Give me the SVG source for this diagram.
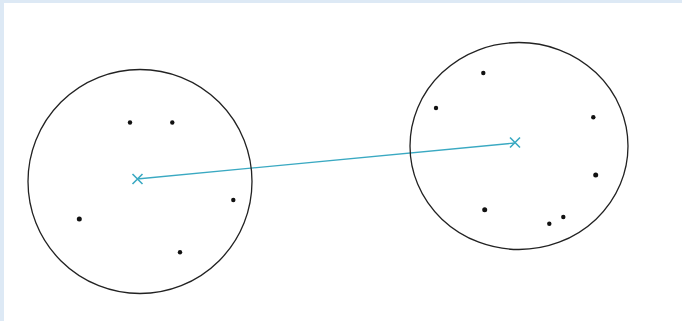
<svg xmlns="http://www.w3.org/2000/svg" width="682" height="321" viewBox="0 0 682 321">
<style>
.ring{fill:none;stroke:#222;stroke-width:1.3}
.dot{fill:#111}
.mk{stroke:#3aa9c2;stroke-width:1.6;fill:none}
.link{stroke:#3aa9c2;stroke-width:1.3;fill:none}
</style>
<rect x="0" y="0" width="682" height="321" fill="#dde9f5"/>
<rect x="4" y="3" width="678" height="318" fill="#ffffff"/>
<g id="connectors">
<line class="link" x1="137" y1="179" x2="515" y2="143"/>
</g>
<g id="clusterA">
<circle class="ring" cx="140" cy="181.5" r="112"/>
<circle class="dot" cx="130" cy="122.5" r="2.2"/>
<circle class="dot" cx="172.3" cy="122.5" r="2.2"/>
<circle class="dot" cx="233.3" cy="200" r="2.2"/>
<circle class="dot" cx="79.3" cy="219" r="2.5"/>
<circle class="dot" cx="180" cy="252.3" r="2.2"/>
<path class="mk" d="M132.5 174 L142.5 184 M142.5 174 L132.5 184"/>
</g>
<g id="clusterB">
<ellipse class="ring" cx="519" cy="146" rx="109" ry="103.5"/>
<circle class="dot" cx="483.3" cy="73" r="2.2"/>
<circle class="dot" cx="436" cy="108" r="2.2"/>
<circle class="dot" cx="593.3" cy="117.3" r="2.2"/>
<circle class="dot" cx="595.7" cy="175" r="2.5"/>
<circle class="dot" cx="484.7" cy="209.7" r="2.5"/>
<circle class="dot" cx="549.3" cy="223.7" r="2.2"/>
<circle class="dot" cx="563.3" cy="217" r="2.2"/>
<path class="mk" d="M510 137.5 L520 147.5 M520 137.5 L510 147.5"/>
</g>
</svg>
